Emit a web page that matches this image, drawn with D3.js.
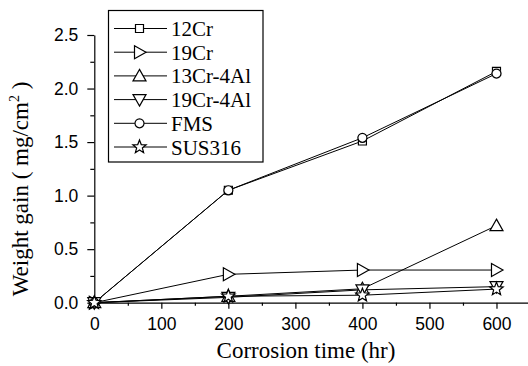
<!DOCTYPE html>
<html><head><meta charset="utf-8">
<script src="https://cdn.jsdelivr.net/npm/d3@7"></script>
<style>body{margin:0;background:#fff}svg{display:block}</style>
</head><body><svg id="c" width="528" height="366"></svg>
<script>
const times = [0, 200, 400, 600];
const s12Cr = [0, 1.05, 1.51, 2.16];
const s19Cr = [0, 0.265, 0.305, 0.305];
const s13Cr4Al = [0, 0.06, 0.13, 0.72];
const s19Cr4Al = [0, 0.05, 0.12, 0.15];
const sFMS = [0, 1.05, 1.54, 2.14];
const sSUS316 = [0, 0.06, 0.07, 0.127];
const seriesNames = ["12Cr", "19Cr", "13Cr-4Al", "19Cr-4Al", "FMS", "SUS316"];
const seriesSymbols = ["square", "right", "up", "down", "circle", "star"];
const xTicks = [0, 100, 200, 300, 400, 500, 600];
const yTicks = [0.0, 0.5, 1.0, 1.5, 2.0, 2.5];

const series = [s12Cr, s19Cr, s13Cr4Al, s19Cr4Al, sFMS, sSUS316].map((v, i) => ({
  name: seriesNames[i], sym: seriesSymbols[i], pts: times.map((t, j) => [t, v[j]])
}));

const serif = "'Liberation Serif', 'Times New Roman', serif";
const sans = "'Liberation Sans', Arial, sans-serif";
const svg = d3.select("#c");
const x = d3.scaleLinear().domain([0, 650]).range([94.3, 530]);
const y = d3.scaleLinear().domain([0, 2.5]).range([302.7, 35]);

function symPath(sym) {
  switch (sym) {
    case "square": return "M-4,-4H4V4H-4Z";
    case "circle": return d3.symbol(d3.symbolCircle, 64)();
    case "up": return "M0,-6.5L6.5,5H-6.5Z";
    case "down": return "M0,6.5L6.5,-5H-6.5Z";
    case "right": return "M6.5,0L-5,-6.5V6.5Z";
    case "star": {
      const pts = [];
      for (let k = 0; k < 10; k++) {
        const r = k % 2 ? 3 : 7, a = -Math.PI / 2 + k * Math.PI / 5;
        pts.push([r * Math.cos(a), r * Math.sin(a)]);
      }
      return "M" + pts.map(p => p.join(",")).join("L") + "Z";
    }
  }
}

// axes
const xAxis = d3.axisBottom(x).tickValues(xTicks).tickSize(6).tickSizeOuter(0).tickPadding(9).tickFormat(d3.format("d"));
const gx = svg.append("g").attr("transform", "translate(0,302.7)").call(xAxis);
gx.selectAll(".tick text").attr("font-family", sans).attr("font-size", 17.5).attr("fill", "#000");
const xMinor = d3.axisBottom(x).tickValues([50,150,250,350,450,550]).tickSize(3).tickFormat("");
svg.append("g").attr("transform", "translate(0,302.7)").call(xMinor).select(".domain").remove();

const yAxis = d3.axisLeft(y).tickValues(yTicks).tickSize(7).tickSizeOuter(0).tickPadding(9).tickFormat(d3.format(".1f"));
const gy = svg.append("g").attr("transform", "translate(94.3,0)").call(yAxis);
gy.selectAll(".tick text").attr("font-family", sans).attr("font-size", 17.5).attr("fill", "#000");
const yMinor = d3.axisLeft(y).tickValues([0.25,0.75,1.25,1.75,2.25]).tickSize(4).tickFormat("");
svg.append("g").attr("transform", "translate(94.3,0)").call(yMinor).select(".domain").remove();
svg.selectAll(".domain, .tick line").attr("stroke", "#000").attr("stroke-width", 1.2);

// titles
svg.append("text").attr("x", 306).attr("y", 358).attr("text-anchor", "middle")
  .attr("font-family", serif).attr("font-size", 23).text("Corrosion time (hr)");
const yt = svg.append("text").attr("transform", "translate(27.5,189) rotate(-90)").attr("text-anchor", "middle")
  .attr("font-family", serif).attr("font-size", 23);
yt.append("tspan").text("Weight gain ( mg/cm");
yt.append("tspan").attr("font-size", 14).attr("dy", -9).text("2");
yt.append("tspan").attr("dy", 9).text(" )");

// lines
const line = d3.line().x(d => x(d[0])).y(d => y(d[1]));
const plot = svg.append("g");
series.forEach(s => {
  plot.append("path").attr("d", line(s.pts)).attr("fill", "none").attr("stroke", "#000").attr("stroke-width", 1);
});
series.forEach(s => {
  plot.selectAll(null).data(s.pts).enter().append("path")
    .attr("transform", d => `translate(${x(d[0])},${y(d[1])})`)
    .attr("d", symPath(s.sym)).attr("fill", "#fff").attr("stroke", "#000").attr("stroke-width", 1.2);
});

// legend
const lg = svg.append("g");
lg.append("rect").attr("x", 108.5).attr("y", 10.5).attr("width", 154.5).attr("height", 151.5)
  .attr("fill", "#fff").attr("stroke", "#000").attr("stroke-width", 1.2);
series.forEach((s, i) => {
  const yy = 28.5 + i * 23.7;
  lg.append("line").attr("x1", 114).attr("x2", 167).attr("y1", yy).attr("y2", yy).attr("stroke", "#000");
  lg.append("path").attr("transform", `translate(139.5,${yy})`).attr("d", symPath(s.sym))
    .attr("fill", "#fff").attr("stroke", "#000").attr("stroke-width", 1.2);
  lg.append("text").attr("x", 171).attr("y", yy + 7.5)
    .attr("font-family", serif).attr("font-size", 21).text(s.name);
});
</script></body></html>
